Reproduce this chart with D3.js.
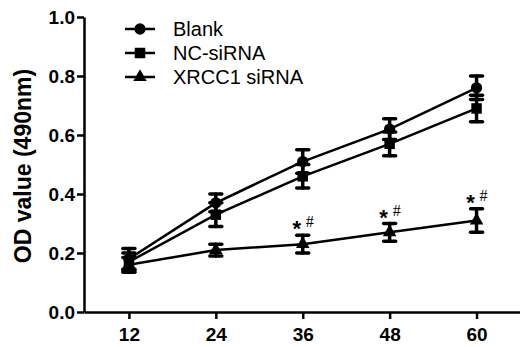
<!DOCTYPE html>
<html lang="en">
<head>
<meta charset="utf-8">
<title>OD value</title>
<script src="https://cdn.jsdelivr.net/npm/d3@7"></script>
<style>
    body {margin: 0; background: white;}
    svg {display: block; background: white;}
    .axis path, .axis line {fill: none; stroke: black; stroke-width: 2.5px;}
    .axis text {font-family: Arial, "Liberation Sans", sans-serif; font-size: 19px; font-weight: bold; fill: black;}
</style>
</head>
<body>
<script>
// data
var hours = [12, 24, 36, 48, 60];
var blank = [0.18, 0.37, 0.51, 0.62, 0.76];
var blankErr = [0.035, 0.03, 0.04, 0.035, 0.04];
var ncSirna = [0.17, 0.33, 0.46, 0.57, 0.69];
var ncErr = [0.03, 0.04, 0.04, 0.04, 0.045];
var xrcc1 = [0.16, 0.21, 0.23, 0.27, 0.31];
var xrccErr = [0.025, 0.02, 0.03, 0.03, 0.04];
var yTicks = [0.0, 0.2, 0.4, 0.6, 0.8, 1.0];
var seriesNames = ["Blank", "NC-siRNA", "XRCC1 siRNA"];
var starHours = [36, 48, 60];

var w = 520, h = 347;

var svg = d3.select("body").append("svg")
    .attr("width", w)
    .attr("height", h);

var xScale = d3.scaleLinear().domain([5.8, 66]).range([84, 520]);
var yScale = d3.scaleLinear().domain([0, 1]).range([312, 17]);

// axes
var xAxis = d3.axisBottom(xScale).tickValues(hours).tickSize(7).tickPadding(6).tickSizeOuter(0);
var yAxis = d3.axisLeft(yScale).tickValues(yTicks).tickSize(7).tickPadding(2)
    .tickFormat(d3.format(".1f")).tickSizeOuter(0);

svg.append("g").attr("class", "axis")
    .attr("transform", "translate(0," + yScale(0) + ")")
    .call(xAxis)
    .selectAll("text").attr("dy", "0.85em");

svg.append("g").attr("class", "axis")
    .attr("transform", "translate(" + xScale(5.8) + ",0)")
    .call(yAxis);

svg.append("text")
    .attr("transform", "translate(31,166) rotate(-90)")
    .attr("text-anchor", "middle")
    .style("font-family", "Arial, 'Liberation Sans', sans-serif")
    .style("font-size", "23px")
    .style("font-weight", "bold")
    .text("OD value (490nm)");

var series = [
    {name: seriesNames[0], vals: blank, errs: blankErr, shape: d3.symbolCircle, size: 100},
    {name: seriesNames[1], vals: ncSirna, errs: ncErr, shape: d3.symbolSquare, size: 110},
    {name: seriesNames[2], vals: xrcc1, errs: xrccErr, shape: d3.symbolTriangle, size: 80}
];

var line = d3.line()
    .x(function(d) {return xScale(d.x);})
    .y(function(d) {return yScale(d.y);});

series.forEach(function(s) {
    var pts = hours.map(function(x, i) {return {x: x, y: s.vals[i], e: s.errs[i]};});

    svg.append("path")
        .datum(pts)
        .attr("d", line)
        .attr("fill", "none")
        .attr("stroke", "black")
        .attr("stroke-width", 2.5);

    var eb = svg.append("g").selectAll("g").data(pts).enter().append("g")
        .attr("stroke", "black")
        .attr("stroke-width", 3.5)
        .attr("stroke-linecap", "round");
    eb.append("line")
        .attr("x1", function(d) {return xScale(d.x);})
        .attr("x2", function(d) {return xScale(d.x);})
        .attr("y1", function(d) {return yScale(d.y - d.e);})
        .attr("y2", function(d) {return yScale(d.y + d.e);});
    eb.append("line")
        .attr("x1", function(d) {return xScale(d.x) - 6;})
        .attr("x2", function(d) {return xScale(d.x) + 6;})
        .attr("y1", function(d) {return yScale(d.y + d.e);})
        .attr("y2", function(d) {return yScale(d.y + d.e);});
    eb.append("line")
        .attr("x1", function(d) {return xScale(d.x) - 6;})
        .attr("x2", function(d) {return xScale(d.x) + 6;})
        .attr("y1", function(d) {return yScale(d.y - d.e);})
        .attr("y2", function(d) {return yScale(d.y - d.e);});

    svg.append("g").selectAll("path").data(pts).enter().append("path")
        .attr("d", d3.symbol().type(s.shape).size(s.size))
        .attr("transform", function(d) {return "translate(" + xScale(d.x) + "," + yScale(d.y) + ")";})
        .attr("fill", "black");
});

// significance marks above XRCC1 siRNA
starHours.forEach(function(hr) {
    var i = hours.indexOf(hr);
    var top = yScale(xrcc1[i] + xrccErr[i]);
    var cx = xScale(hr);
    svg.append("text")
        .attr("x", cx - 6).attr("y", top + 1)
        .attr("text-anchor", "middle")
        .style("font-family", "Arial, 'Liberation Sans', sans-serif")
        .style("font-size", "22px")
        .style("font-weight", "bold")
        .text("*");
    svg.append("text")
        .attr("x", cx + 7).attr("y", top - 8)
        .attr("text-anchor", "middle")
        .style("font-family", "'Liberation Serif', serif")
        .style("font-size", "16px")
        .text("#");
});

// legend
var legend = svg.append("g").selectAll("g").data(series).enter().append("g")
    .attr("transform", function(d, i) {return "translate(125," + (29 + i * 24) + ")";});
legend.append("line")
    .attr("x1", 0).attr("x2", 30)
    .attr("stroke", "black").attr("stroke-width", 2.5);
legend.append("path")
    .attr("d", function(d) {return d3.symbol().type(d.shape).size(d.size)();})
    .attr("transform", "translate(15,0)")
    .attr("fill", "black");
legend.append("text")
    .attr("x", 48).attr("y", 7)
    .style("font-family", "Arial, 'Liberation Sans', sans-serif")
    .style("font-size", "20px")
    .text(function(d) {return d.name;});
</script>
</body>
</html>
